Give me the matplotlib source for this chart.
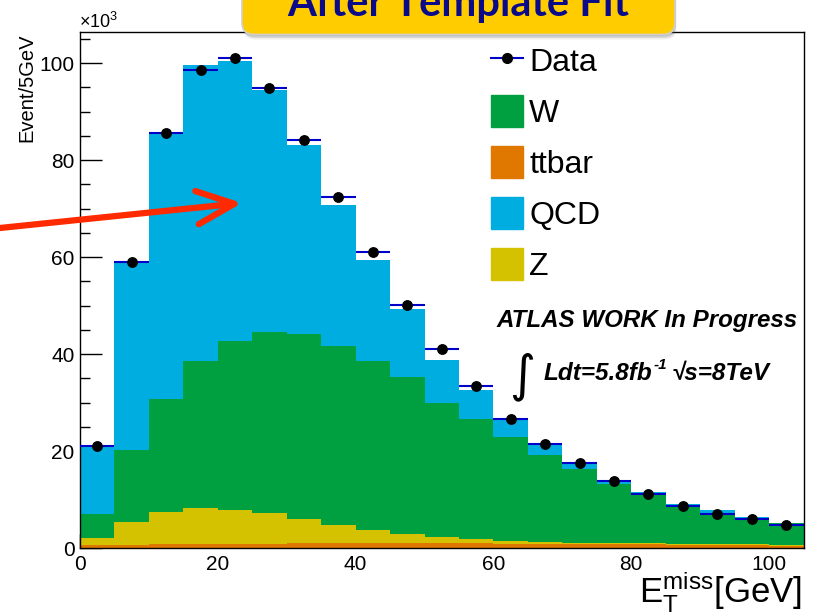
import numpy as np
import matplotlib.pyplot as plt
from matplotlib.patches import FancyBboxPatch, FancyArrowPatch, Patch
from matplotlib.lines import Line2D

plt.rcParams['font.family'] = ['Liberation Sans', 'DejaVu Sans']
plt.rcParams['mathtext.fontset'] = 'custom'
plt.rcParams['mathtext.sf'] = 'Liberation Sans'

# MET bins, 5 GeV wide, values in units of 10^3 events
edges = np.arange(0, 106, 5)
data = [21.1, 59.0, 85.7, 98.6, 101.0, 94.8, 84.1, 72.4, 61.0, 50.2, 41.0,
        33.5, 26.6, 21.4, 17.5, 13.8, 11.1, 8.7, 7.1, 5.9, 4.7]
ttbar = [0.6, 0.7, 0.8, 0.9, 0.9, 0.9, 1.0, 1.0, 1.0, 1.0, 1.0,
         1.0, 0.9, 0.9, 0.9, 0.8, 0.8, 0.7, 0.7, 0.6, 0.5]
z = [1.5, 4.6, 6.6, 7.3, 7.0, 6.4, 5.0, 3.7, 2.8, 1.9, 1.2,
     0.8, 0.6, 0.4, 0.2, 0.2, 0.15, 0.2, 0.15, 0.2, 0.2]
w = [4.9, 14.9, 23.3, 30.4, 34.8, 37.2, 38.2, 36.9, 34.8, 32.4, 27.7,
     24.8, 21.4, 17.9, 15.1, 12.3, 10.0, 7.8, 6.4, 5.1, 4.4]
qcd = [13.9, 38.8, 55.0, 61.1, 57.7, 49.9, 38.9, 29.1, 20.8, 13.9, 8.9,
       6.0, 3.7, 2.2, 1.3, 0.5, 0.5, 0.4, 0.5, 0.4, 0.1]

c_w = '#00a040'
c_tt = '#e07800'
c_qcd = '#00ade0'
c_z = '#d4c100'
c_data = '#0000c8'

fig = plt.figure(figsize=(8.13, 6.13), dpi=100)
ax = fig.add_axes([80/813, 1-548/613, 723.5/813, 516.3/613])


def px(x, y):
    return (x/813, 1-y/613)


bottom = np.zeros(len(data))
for vals, col in [(ttbar, c_tt), (z, c_z), (w, c_w), (qcd, c_qcd)]:
    top = bottom + np.array(vals)
    ax.stairs(top, edges, baseline=bottom, fill=True, color=col, lw=0)
    bottom = top

centres = (edges[:-1] + edges[1:]) / 2
ax.errorbar(centres, data, xerr=2.5, fmt='o', color='black', ecolor=c_data,
            elinewidth=1.5, ms=6.8, capsize=0, zorder=3)

ax.set_xlim(0, 105)
ax.set_ylim(0, 106.5)
ax.set_xticks([0, 20, 40, 60, 80, 100])
ax.set_yticks(np.arange(0, 101, 20))
ax.set_yticks(np.arange(0, 106, 5), minor=True)
ax.set_axisbelow(True)
ax.tick_params(axis='y', which='major', direction='in', length=16, width=1, labelsize=15, pad=4)
ax.tick_params(axis='y', which='minor', direction='in', length=7, width=1)
ax.tick_params(axis='x', which='major', direction='in', length=10, width=1, labelsize=15, pad=5)
for s in ax.spines.values():
    s.set_linewidth(1)

handles = [Line2D([], [], color=c_data, lw=1.5, marker='o', mfc='black', mec='black', ms=7),
           Patch(color=c_w), Patch(color=c_tt), Patch(color=c_qcd), Patch(color=c_z)]
ax.legend(handles, ['Data', 'W', 'ttbar', 'QCD', 'Z'], loc='upper left',
          bbox_to_anchor=(0.568, 0.975), frameon=False, fontsize=23,
          handlelength=1.0, handleheight=1.16, handletextpad=0.2,
          labelspacing=0.535, borderpad=0, borderaxespad=0)

fig.text(*px(27, 33), 'Event/5GeV', rotation=90, ha='center', va='top', fontsize=14.5)
fig.text(*px(79, 28), r'$\mathsf{\times10^{3}}$', ha='left', va='baseline', fontsize=13)
fig.text(*px(802, 603), r'$\mathsf{E_{T}^{miss}}$[GeV]', ha='right', va='baseline', fontsize=25)

# ATLAS label and luminosity
bi = dict(fontweight='bold', style='italic', va='baseline')
fig.text(*px(798, 327), 'ATLAS WORK In Progress', ha='right', fontsize=17.4, **bi)
fig.text(*px(544, 380), 'Ldt=5.8fb', ha='left', fontsize=17.5, **bi)
fig.text(*px(654, 369), '-1', ha='left', fontsize=11, **bi)
fig.text(*px(770, 380), '\u221as=8TeV', ha='right', fontsize=17.5, **bi)
fig.text(*px(522, 377), '\u222b', ha='center', va='center', fontsize=36, family='DejaVu Sans')

# title box, cut off at the top of the picture
for off, a in [(0.05, 0.10), (0.035, 0.15), (0.02, 0.2)]:
    fig.add_artist(FancyBboxPatch((2.42 + off*0.3, 6.13 - 0.345 - off), 4.33, 1.0,
                                  boxstyle='round,pad=0,rounding_size=0.12',
                                  transform=fig.dpi_scale_trans, fc='#606060', ec='none',
                                  alpha=a, zorder=5))
fig.add_artist(FancyBboxPatch((2.42, 6.13 - 0.345), 4.33, 1.0,
                              boxstyle='round,pad=0,rounding_size=0.12',
                              transform=fig.dpi_scale_trans, fc='#ffcc00', ec='#cfcfcf',
                              lw=1.2, zorder=6))
fig.text(*px(458, 16), 'After Template Fit', ha='center', va='baseline', fontsize=30,
         fontweight='bold', family='Lato', color='#0b0b8a', zorder=7)

# red arrow
fig.add_artist(FancyArrowPatch((-0.05, 6.13 - 2.285), (2.42, 6.13 - 2.03),
                               transform=fig.dpi_scale_trans,
                               arrowstyle='->,head_length=2.7,head_width=1.2',
                               mutation_scale=10, color='#ff2a00', lw=4.5,
                               capstyle='round', joinstyle='round',
                               shrinkA=0, shrinkB=0, zorder=8))

fig.savefig('out.png', dpi=100)
